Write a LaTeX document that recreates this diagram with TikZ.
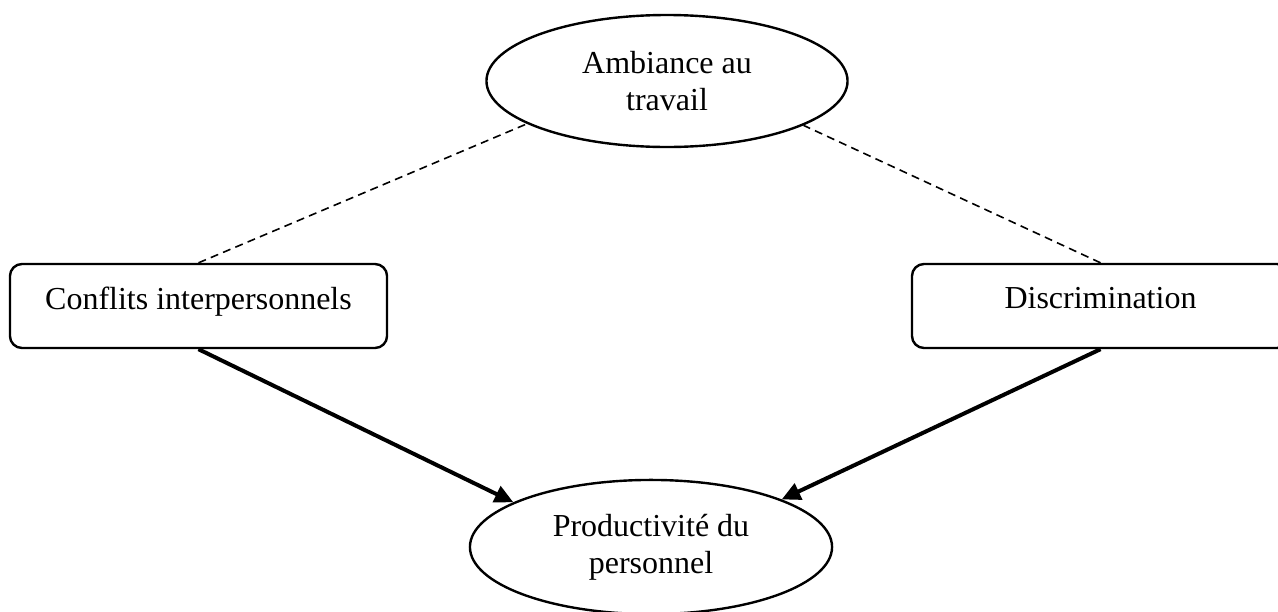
\documentclass[tikz,border=0pt]{standalone}
\usepackage{fontspec}
\setmainfont{Liberation Serif}
\usetikzlibrary{shapes.geometric,arrows.meta}
\tikzstyle{oval}=[draw,ellipse,line width=.9pt,inner sep=0pt,align=center,
  font=\fontsize{12}{13.8}\selectfont]
\tikzstyle{facteur}=[draw,rectangle,rounded corners=4.5pt,line width=.9pt,
  minimum width=141.4pt,minimum height=31.5pt,font=\fontsize{12}{13.8}\selectfont]
\tikzstyle{lien}=[dash pattern=on 3pt off 2pt,line width=.6pt]
\tikzstyle{effet}=[->,line width=1.5pt]

\begin{document}
\begin{tikzpicture}[>={Triangle[length=7pt,width=6.5pt]}, x=0.375pt, y=-0.375pt]
  \useasboundingbox (0,0) rectangle (1278,611);

  \node[oval, minimum width=135.4pt, minimum height=49.5pt] (amb) at (667,81)
    {Ambiance au\\travail};
  \node[oval, minimum width=135.8pt, minimum height=50.3pt] (prod) at (651,547)
    {Productivité du\\personnel};

  \node[facteur, text depth=6pt] (conf) at (198.5,306) {Conflits interpersonnels};
  \node[facteur, text depth=6pt] (disc) at (1100.5,306) {Discrimination};

  \draw[lien] (conf.north) -- (amb.197);
  \draw[lien] (disc.north) -- (amb.342);

  \draw[effet] (conf.south) -- (prod.162);
  \draw[effet] (disc.south) -- (prod.20);
\end{tikzpicture}
\end{document}
